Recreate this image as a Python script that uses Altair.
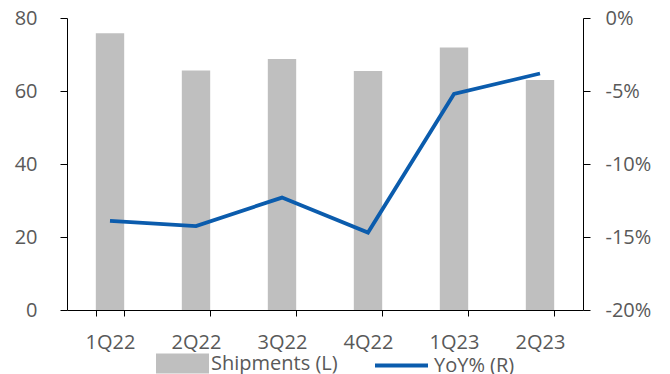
import altair as alt
import pandas as pd

# Quarterly shipments (left axis) and year-over-year change in % (right axis)
quarters = ["1Q22", "2Q22", "3Q22", "4Q22", "1Q23", "2Q23"]
shipments = [75.8, 65.6, 68.8, 65.5, 71.9, 63.0]
yoy_pct = [-13.9, -14.25, -12.3, -14.7, -5.2, -3.8]

df = pd.DataFrame({
    "quarter": quarters,
    "shipments": shipments,
    "yoy": yoy_pct,
    "bar_series": ["Shipments (L)"] * len(quarters),
    "line_series": ["YoY% (R)"] * len(quarters),
})

FONT = "Open Sans"
FS = 20
TEXT = "#595959"
BAR = "#BFBFBF"
LINE = "#0B5CAD"

x = alt.X(
    "quarter:N",
    sort=quarters,
    title=None,
    scale=alt.Scale(paddingInner=0.67, paddingOuter=0.335),
    axis=alt.Axis(
        labelAngle=0,
        labelFont=FONT,
        labelFontSize=FS,
        labelColor=TEXT,
        labelPadding=16,
        tickBand="extent",
        tickSize=6,
        tickColor="black",
        domainColor="black",
        grid=False,
    ),
)

bars = alt.Chart(df).mark_bar(color=BAR).encode(
    x=x,
    y=alt.Y(
        "shipments:Q",
        title=None,
        scale=alt.Scale(domain=[0, 80], nice=False),
        axis=alt.Axis(
            values=[0, 20, 40, 60, 80],
            orient="left",
            labelFont=FONT,
            labelFontSize=FS,
            labelColor=TEXT,
            labelPadding=23,
            tickSize=7,
            tickColor="black",
            domainColor="black",
            grid=False,
        ),
    ),
    fill=alt.Fill(
        "bar_series:N",
        scale=alt.Scale(range=[BAR]),
        legend=alt.Legend(
            title=None,
            orient="none",
            legendX=89,
            legendY=319,
            padding=0,
            symbolType="M-1,-0.38L1,-0.38L1,0.38L-1,0.38Z",
            symbolSize=2809,
            symbolStrokeWidth=0,
            symbolOpacity=1,
            labelFont=FONT,
            labelFontSize=FS,
            labelColor=TEXT,
            labelOffset=2,
        ),
    ),
)

line = alt.Chart(df).mark_line(strokeWidth=3.8).encode(
    x=x,
    y=alt.Y(
        "yoy:Q",
        title=None,
        scale=alt.Scale(domain=[-20, 0], nice=False),
        axis=alt.Axis(
            values=[-20, -15, -10, -5, 0],
            orient="right",
            labelExpr="datum.value + '%'",
            labelFont=FONT,
            labelFontSize=FS,
            labelColor=TEXT,
            labelPadding=15,
            tickSize=7,
            tickColor="black",
            domainColor="black",
            grid=False,
        ),
    ),
    stroke=alt.Stroke(
        "line_series:N",
        scale=alt.Scale(range=[LINE]),
        legend=alt.Legend(
            title=None,
            orient="none",
            legendX=306,
            legendY=319,
            padding=0,
            symbolType="stroke",
            symbolSize=2809,
            symbolStrokeWidth=3.8,
            labelFont=FONT,
            labelFontSize=FS,
            labelColor=TEXT,
            labelOffset=4,
        ),
    ),
)

chart = (
    alt.layer(bars, line)
    .resolve_scale(y="independent", fill="independent", stroke="independent")
    .properties(
        width=516,
        height=292,
        autosize=alt.AutoSizeParams(type="none"),
        padding={"left": 67, "top": 18, "right": 87, "bottom": 64},
        background="white",
    )
    .configure_view(stroke=None)
)

chart.save("out.html", embed_options={"renderer": "svg", "actions": False})
